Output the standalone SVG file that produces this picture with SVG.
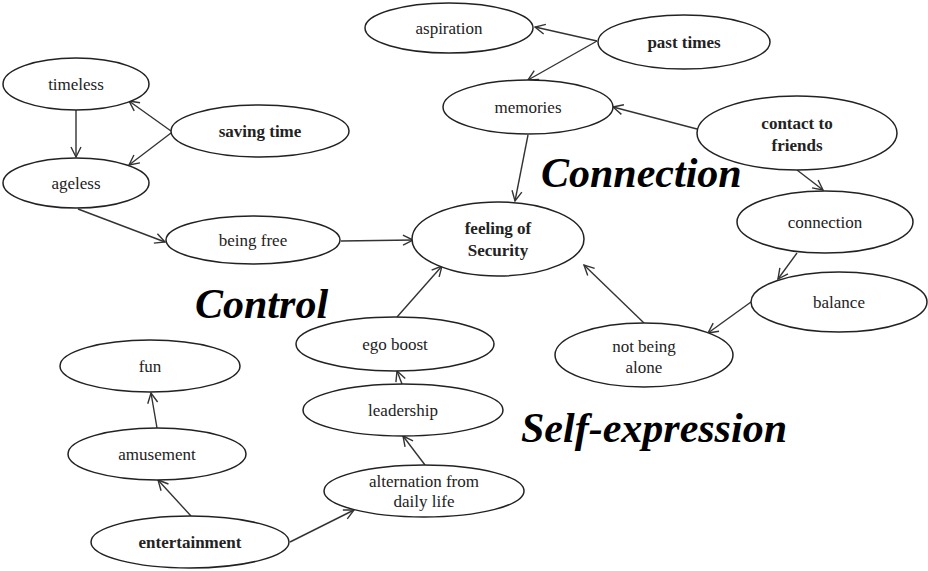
<svg xmlns="http://www.w3.org/2000/svg" width="928" height="571" viewBox="0 0 928 571">
<style>
.n ellipse{fill:#fff;stroke:#222;stroke-width:1.5}
.n text{font-family:'Liberation Serif','Times New Roman',Tinos,'DejaVu Serif',serif;font-size:17px;fill:#222;text-anchor:middle}
.n text.b{font-weight:bold}
#edges line{stroke:#333;stroke-width:1.4;marker-end:url(#arr)}
.big{font-family:'Liberation Serif','Times New Roman',Tinos,'DejaVu Serif',serif;font-size:42px;font-weight:bold;font-style:italic;fill:#000}
</style>
<defs>
<marker id="arr" markerUnits="userSpaceOnUse" markerWidth="14" markerHeight="14" viewBox="0 0 14 14" refX="12" refY="7" orient="auto">
<path d="M2,2 L12,7 L2,12" fill="none" stroke="#333" stroke-width="1.4"/>
</marker>
</defs>
<rect width="928" height="571" fill="#fff"/>
<g id="edges">
<line x1="171" y1="131" x2="129" y2="101"/>
<line x1="171" y1="133" x2="129" y2="165"/>
<line x1="76" y1="110" x2="76" y2="157"/>
<line x1="78" y1="209" x2="165" y2="242"/>
<line x1="341" y1="241" x2="413" y2="240"/>
<line x1="597" y1="41" x2="535" y2="27"/>
<line x1="597" y1="41" x2="528" y2="80"/>
<line x1="697" y1="129" x2="613" y2="107"/>
<line x1="528" y1="135" x2="515" y2="201"/>
<line x1="797" y1="170" x2="823" y2="190"/>
<line x1="797" y1="253" x2="778" y2="279"/>
<line x1="751" y1="302" x2="708" y2="333"/>
<line x1="644" y1="323" x2="584" y2="265"/>
<line x1="397" y1="317" x2="442" y2="266"/>
<line x1="402" y1="384" x2="397" y2="371"/>
<line x1="425" y1="465" x2="403" y2="436"/>
<line x1="290" y1="542" x2="354" y2="510"/>
<line x1="191" y1="516" x2="158" y2="480"/>
<line x1="157" y1="428" x2="151" y2="393"/>
</g>
<g id="timeless" class="n"><ellipse cx="76" cy="84" rx="73" ry="26"/><text x="76" y="90">timeless</text></g>
<g id="saving-time" class="n"><ellipse cx="260" cy="131" rx="89" ry="26"/><text class="b" x="260" y="137">saving time</text></g>
<g id="ageless" class="n"><ellipse cx="76" cy="183" rx="73" ry="25"/><text x="76" y="189">ageless</text></g>
<g id="being-free" class="n"><ellipse cx="253" cy="240" rx="87" ry="24"/><text x="253" y="246">being free</text></g>
<g id="aspiration" class="n"><ellipse cx="449" cy="28" rx="84" ry="25"/><text x="449" y="34">aspiration</text></g>
<g id="past-times" class="n"><ellipse cx="684" cy="42" rx="86" ry="27"/><text class="b" x="684" y="48">past times</text></g>
<g id="memories" class="n"><ellipse cx="528" cy="107" rx="85" ry="27"/><text x="528" y="113">memories</text></g>
<g id="contact-to-friends" class="n"><ellipse cx="797" cy="133" rx="100" ry="37"/><text class="b" x="797" y="129">contact to</text><text class="b" x="797" y="151">friends</text></g>
<g id="connection" class="n"><ellipse cx="825" cy="222" rx="88" ry="31"/><text x="825" y="228">connection</text></g>
<g id="balance" class="n"><ellipse cx="839" cy="302" rx="88" ry="30"/><text x="839" y="308">balance</text></g>
<g id="feeling-of-security" class="n"><ellipse cx="498" cy="239" rx="86" ry="37"/><text class="b" x="498" y="234">feeling of</text><text class="b" x="498" y="256">Security</text></g>
<g id="ego-boost" class="n"><ellipse cx="395" cy="344" rx="99" ry="27"/><text x="395" y="350">ego boost</text></g>
<g id="not-being-alone" class="n"><ellipse cx="644" cy="355" rx="89" ry="32"/><text x="644" y="352">not being</text><text x="644" y="373">alone</text></g>
<g id="fun" class="n"><ellipse cx="150" cy="366" rx="90" ry="26"/><text x="150" y="372">fun</text></g>
<g id="amusement" class="n"><ellipse cx="157" cy="454" rx="89" ry="26"/><text x="157" y="460">amusement</text></g>
<g id="entertainment" class="n"><ellipse cx="190" cy="542" rx="99" ry="26"/><text class="b" x="190" y="548">entertainment</text></g>
<g id="leadership" class="n"><ellipse cx="403" cy="410" rx="100" ry="26"/><text x="403" y="416">leadership</text></g>
<g id="alternation" class="n"><ellipse cx="424" cy="491" rx="100" ry="26"/><text x="424" y="487">alternation  from</text><text x="424" y="507">daily  life</text></g>
<text class="big" x="195" y="318">Control</text>
<text class="big" x="541" y="187">Connection</text>
<text class="big" x="521" y="442">Self-expression</text>
</svg>
